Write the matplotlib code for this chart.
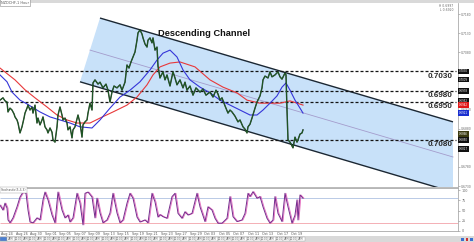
import matplotlib
matplotlib.use("Agg")
import matplotlib.pyplot as plt
from matplotlib.patches import Rectangle
from matplotlib.transforms import blended_transform_factory

# ---------------- data ----------------
price_x = [0, 3, 5, 7, 8, 10, 12, 14, 15, 17,
           18, 20, 22, 24, 25, 27, 28, 30, 32, 33,
           35, 37, 38, 40, 42, 43, 45, 47, 48, 50,
           52, 53, 55, 57, 58, 60, 62, 63, 65, 67,
           68, 70, 72, 73, 75, 78, 80, 82, 83, 85,
           87, 88, 90, 92, 93, 95, 98, 100, 103, 106,
           108, 110, 112, 114, 117, 120, 122, 125, 127, 129,
           131, 133, 135, 137, 138, 140, 142, 143, 145, 147,
           148, 150, 152, 153, 155, 157, 158, 160, 163, 165,
           167, 170, 173, 175, 177, 180, 183, 185, 187, 190,
           193, 196, 200, 203, 206, 210, 213, 216, 218, 220,
           222, 225, 228, 230, 232, 235, 238, 240, 243, 245,
           247, 248, 250, 252, 255, 257, 260, 262, 263, 265,
           268, 270, 272, 275, 278, 280, 282, 285, 286, 287,
           288, 290, 292, 293, 295, 297, 298, 300, 302, 303]
price_close = [0.6955, 0.6961, 0.6953, 0.6950, 0.6924, 0.6934, 0.6929, 0.6919, 0.6911, 0.6903,
               0.6895, 0.6869, 0.6885, 0.6908, 0.6921, 0.6934, 0.6942, 0.6929, 0.6937, 0.6921,
               0.6942, 0.6895, 0.6908, 0.6890, 0.6903, 0.6911, 0.6885, 0.6877, 0.6869, 0.6882,
               0.6871, 0.6851, 0.6845, 0.6885, 0.6916, 0.6937, 0.6916, 0.6903, 0.6908, 0.6895,
               0.6877, 0.6885, 0.6856, 0.6877, 0.6885, 0.6916, 0.6895, 0.6858, 0.6890, 0.6898,
               0.6903, 0.6921, 0.6947, 0.6929, 0.7000, 0.7008, 0.6997, 0.7002, 0.6987, 0.6997,
               0.6981, 0.6950, 0.6976, 0.6992, 0.6987, 0.6995, 0.6981, 0.7002, 0.7047, 0.7039,
               0.7055, 0.7068, 0.7081, 0.7112, 0.7131, 0.7139, 0.7128, 0.7118, 0.7102, 0.7094,
               0.7112, 0.7118, 0.7105, 0.7118, 0.7086, 0.7094, 0.7044, 0.7013, 0.7029, 0.7008,
               0.7021, 0.6992, 0.7029, 0.7013, 0.6995, 0.7008, 0.6987, 0.7002, 0.6981, 0.6992,
               0.6968, 0.6987, 0.6976, 0.6984, 0.6968, 0.6976, 0.6963, 0.6981, 0.6971, 0.6955,
               0.6961, 0.6940, 0.6921, 0.6929, 0.6924, 0.6913, 0.6898, 0.6903, 0.6885, 0.6879,
               0.6869, 0.6885, 0.6892, 0.6908, 0.6934, 0.6950, 0.6966, 0.6987, 0.7008, 0.7018,
               0.7013, 0.7029, 0.7016, 0.7021, 0.7029, 0.7016, 0.7010, 0.7026, 0.7021, 0.6929,
               0.6851, 0.6845, 0.6835, 0.6830, 0.6858, 0.6845, 0.6851, 0.6866, 0.6869, 0.6877]

red_ma_x = [0, 15, 25, 35, 47, 57, 67, 77, 90, 100, 113, 127, 137, 147, 153,
            160, 170, 180, 195, 210, 223, 237, 247, 260, 280, 290, 303]
red_ma_y = [0.7039, 0.7008, 0.6982, 0.6961, 0.6937, 0.6916, 0.6903, 0.6895, 0.6895,
            0.6908, 0.6924, 0.6942, 0.6963, 0.6995, 0.7021, 0.7042, 0.7052, 0.7055,
            0.7042, 0.7008, 0.6989, 0.6974, 0.6955, 0.6947, 0.6947, 0.6953, 0.6942]

blue_ma_x = [0, 7, 12, 20, 27, 40, 50, 60, 70, 80, 92, 100, 110, 120, 130, 140, 150,
             157, 163, 170, 177, 183, 190, 200, 210, 220, 230, 240, 250, 257, 263,
             270, 277, 282, 286, 290, 295, 300, 303]
blue_ma_y = [0.7021, 0.7003, 0.6976, 0.6955, 0.6945, 0.6924, 0.6911, 0.6903, 0.6895,
             0.6885, 0.6882, 0.6903, 0.6934, 0.6963, 0.6981, 0.7003, 0.7034, 0.7060,
             0.7078, 0.7086, 0.7068, 0.7034, 0.7008, 0.6989, 0.6974, 0.6955, 0.6942,
             0.6929, 0.6916, 0.6916, 0.6929, 0.6947, 0.6966, 0.6989, 0.7000, 0.6981,
             0.6955, 0.6934, 0.6921]

channel_upper_x = [100, 453]
channel_upper_y = [0.7170, 0.6898]
channel_lower_x = [80, 453]
channel_lower_y = [0.7003, 0.6714]
channel_mid_x = [90, 453]
channel_mid_y = [0.7086, 0.6806]

level_values = [0.7030, 0.6978, 0.6949, 0.6850]
level_labels = ["0.7030", "0.6980", "0.6950", "0.7080"]

price_ticks = [0.7180, 0.7130, 0.7080, 0.7030, 0.6980, 0.6930, 0.6880, 0.6830, 0.6780, 0.6730]
hidden_ticks = [0.7030, 0.6980, 0.6830]   # covered by price tags in the picture

tag_values = [0.7030, 0.7009, 0.6978, 0.6952, 0.6942, 0.6921, 0.6866, 0.6850, 0.6827]
tag_colors = ["#111111", "#111111", "#111111", "#111111", "#e01818", "#1a2fd0",
              "#3b3b12", "#111111", "#111111"]

date_pos = [7, 22, 36, 51, 65, 80, 94, 109, 123, 138, 152, 167, 181, 196, 210,
            225, 239, 254, 268, 283, 297]
date_labels = ["Aug 24", "Aug 26", "Aug 30", "Sep 01", "Sep 05", "Sep 07", "Sep 09",
               "Sep 13", "Sep 15", "Sep 19", "Sep 21", "Sep 23", "Sep 27", "Sep 29",
               "Oct 03", "Oct 05", "Oct 07", "Oct 11", "Oct 13", "Oct 17", "Oct 19"]
time_labels = ["20:00", "4AM"]

osc_x = [0, 3, 5, 7, 8, 10, 13, 17, 20, 23,
         26, 28, 30, 33, 37, 40, 43, 45, 48, 52,
         55, 58, 62, 65, 68, 70, 73, 77, 80, 83,
         85, 88, 92, 95, 97, 100, 103, 107, 110, 113,
         117, 120, 123, 127, 130, 133, 137, 140, 145, 148,
         152, 155, 158, 160, 163, 167, 172, 175, 178, 182,
         185, 188, 192, 197, 200, 205, 208, 212, 215, 218,
         222, 227, 230, 233, 237, 242, 245, 248, 250, 253,
         257, 260, 263, 267, 270, 273, 275, 278, 282, 285,
         288, 292, 295, 297, 298, 300, 303]
osc_k = [63, 51, 68, 56, 27, 20, 32, 59, 83, 95,
         92, 51, 22, 20, 32, 27, 76, 95, 76, 39,
         20, 95, 51, 32, 39, 22, 32, 92, 68, 15,
         92, 95, 83, 32, 80, 44, 20, 27, 44, 92,
         44, 20, 27, 68, 92, 80, 34, 22, 27, 20,
         92, 71, 34, 40, 35, 31, 84, 92, 43, 31,
         47, 39, 43, 92, 59, 23, 59, 51, 31, 19,
         19, 31, 84, 35, 23, 27, 43, 92, 84, 96,
         80, 84, 59, 31, 19, 27, 84, 43, 23, 92,
         59, 19, 39, 76, 27, 88, 80]
osc_levels = [80, 20]
osc_ticks = [0, 25, 50, 75, 100]

# ---------------- figure ----------------
W, H = 474, 242
fig = plt.figure(figsize=(W / 100, H / 100), dpi=100)
fig.patch.set_facecolor("white")


def fy(py):
    return 1 - py / H


# background strips
fig.patches.append(Rectangle((0, fy(3)), 1, 3 / H, transform=fig.transFigure,
                             facecolor="#d9d9d9", edgecolor="none", zorder=0))
fig.patches.append(Rectangle((0, 0), 1, 6 / H, transform=fig.transFigure,
                             facecolor="#d9d9d9", edgecolor="none", zorder=0))

# ---------------- main price pane ----------------
ax = fig.add_axes([0, fy(187), 458 / W, 184 / H])
ax.set_xlim(0, 458)
ax.set_ylim(0.67274, 0.72094)
ax.set_facecolor("white")

# channel fill (parallelogram)
ax.fill([channel_upper_x[0], channel_upper_x[1], channel_lower_x[1], channel_lower_x[0]],
        [channel_upper_y[0], channel_upper_y[1], channel_lower_y[1], channel_lower_y[0]],
        color="#c8e1f9", lw=0, zorder=1)
ax.plot(channel_mid_x, channel_mid_y, color="#a49ccc", lw=0.6, zorder=2)
ax.plot(channel_upper_x, channel_upper_y, color="#1b2733", lw=1.0, zorder=2,
        solid_capstyle="butt")
ax.plot(channel_lower_x, channel_lower_y, color="#1b2733", lw=1.0, zorder=2,
        solid_capstyle="butt")

# horizontal levels
ax.hlines(level_values, 0, 456, colors="#141414", linestyles=(0, (2.4, 1.6)),
          lw=0.9, zorder=3)
for v, lab in zip(level_values, level_labels):
    ax.annotate(lab, xy=(453, v), xytext=(0, -3.3), textcoords="offset points",
                ha="right", va="center", fontsize=5.8, fontweight="bold",
                color="#2b2b2b", family="Liberation Sans", zorder=6)

# moving averages
ax.plot(red_ma_x, red_ma_y, color="#e8383a", lw=0.8, zorder=4)
ax.plot(blue_ma_x, blue_ma_y, color="#3535d8", lw=0.8, zorder=4)

# price
ax.plot(price_x, price_close, color="#0f230f", lw=1.0, zorder=5)
ax.plot(price_x, price_close, color="#2f8a3c", lw=0.35, zorder=5)

ax.text(158, 0.71295, "Descending Channel", ha="left", va="center",
        fontsize=6.7, fontweight="bold", color="#111111",
        family="Liberation Sans", zorder=7)

# axes styling
for s in ["left", "top"]:
    ax.spines[s].set_visible(False)
ax.spines["right"].set_color("#9a9a9a")
ax.spines["right"].set_linewidth(0.5)
ax.spines["bottom"].set_color("#b0b0b0")
ax.spines["bottom"].set_linewidth(0.6)
ax.set_xticks([])
ax.yaxis.tick_right()
ax.set_yticks(price_ticks)
ax.set_yticklabels(["" if t in hidden_ticks else "%.4f" % t for t in price_ticks])
ax.tick_params(axis="y", length=1.2, width=0.4, colors="#8a8a8a", labelsize=2.2,
               pad=1.0, labelcolor="#666666")

# price tags on the right axis
btr = blended_transform_factory(ax.transAxes, ax.transData)
for v, c in zip(tag_values, tag_colors):
    ax.text(1.003, v, "%.4f" % v, transform=btr, ha="left", va="center",
            fontsize=1.9, color="white",
            bbox=dict(boxstyle="square,pad=0.35", fc=c, ec="none"),
            clip_on=False, zorder=8)

ax.text(453, 0.72094 - 0.00015, "H 0.6997\nL 0.6920", ha="right", va="top",
        fontsize=2.2, color="#666666", linespacing=1.1)

# ---------------- oscillator pane ----------------
ax2 = fig.add_axes([0, fy(231), 458 / W, 43 / H])
ax2.set_xlim(0, 458)
ax2.set_ylim(0, 105)
ax2.hlines(osc_levels[0], 0, 458, colors="#aec2e2", lw=0.6)
ax2.hlines(osc_levels[1], 0, 458, colors="#f2a2aa", lw=0.6)
ax2.plot([x + 1 for x in osc_x], osc_k, color="#e56cc0", lw=0.6)
ax2.plot(osc_x, osc_k, color="#742c8c", lw=0.7)
ax2.spines["left"].set_visible(False)
for s in ["top", "bottom"]:
    ax2.spines[s].set_color("#a8a8a8")
    ax2.spines[s].set_linewidth(0.6)
ax2.spines["right"].set_color("#9a9a9a")
ax2.spines["right"].set_linewidth(0.5)
ax2.yaxis.tick_right()
ax2.set_yticks(osc_ticks)
ax2.set_yticklabels([str(t) for t in osc_ticks])
ax2.tick_params(axis="y", length=1.2, width=0.4, colors="#8a8a8a", labelsize=2.4,
                pad=1.5, labelcolor="#666666")
ax2.set_xticks(date_pos)
ax2.set_xticklabels(date_labels)
ax2.tick_params(axis="x", length=0, labelsize=2.4, pad=0.6, labelcolor="#555555")
ax2.text(1, 104, "Stochastic(5,3,3)", ha="left", va="top", fontsize=2.2,
         color="#555555",
         bbox=dict(boxstyle="square,pad=0.3", fc="white", ec="#9a9a9a", lw=0.3))

# time row cells
bt2 = blended_transform_factory(ax2.transData, fig.transFigure)
cell_w = 7.25
n_cells = 42
for i in range(n_cells):
    x0 = i * cell_w
    fc = "#4a7fd2" if i == 0 else "white"
    fig.patches.append(Rectangle((x0, fy(241)), cell_w, 4.5 / H, transform=bt2,
                                 facecolor=fc, edgecolor="#a0a0a0", lw=0.3, zorder=1))
    if i > 0:
        fig.text(x0 + cell_w / 2, fy(238.7), time_labels[i % 2], transform=bt2,
                 ha="center", va="center", fontsize=1.8, color="#555555")

# top-left symbol label
fig.text(1 / W, fy(2.6), "NZDCHF,1 Hour", ha="left", va="center", fontsize=2.5,
         color="#555555",
         bbox=dict(boxstyle="square,pad=0.35", fc="white", ec="#8a8a8a", lw=0.4))

# small icons at bottom right
for xi, c in [(461, "#3a70d0"), (465.5, "#d03030"), (470, "#3a70d0")]:
    fig.patches.append(Rectangle((xi / W, fy(240.5)), 2.5 / W, 2.5 / H,
                                 transform=fig.transFigure, facecolor=c,
                                 edgecolor="none", zorder=2))

fig.savefig("out.png", dpi=100)
